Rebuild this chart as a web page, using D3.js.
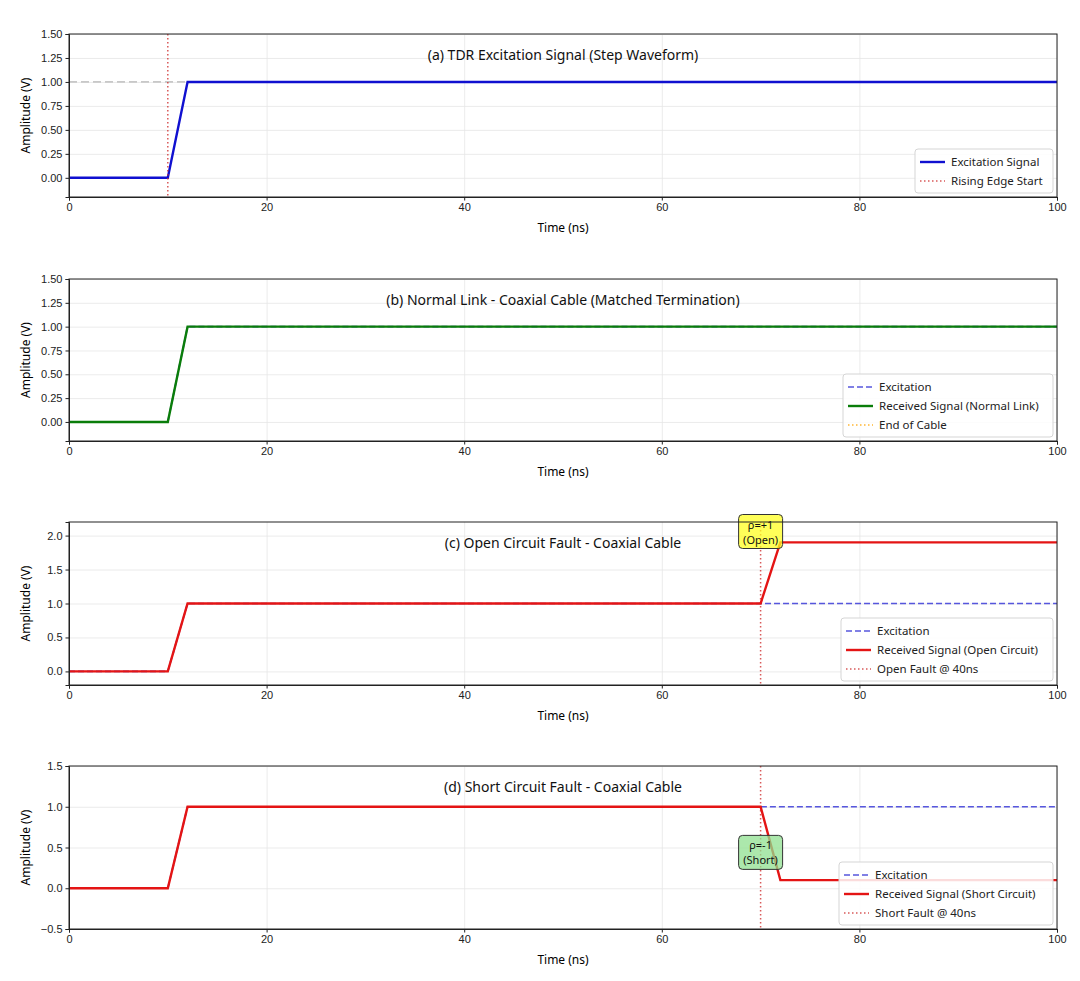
<!DOCTYPE html>
<html>
<head>
<meta charset="utf-8">
<script src="https://cdn.jsdelivr.net/npm/d3@7"></script>
<style>
  body { margin: 0; background: #fff; }
  svg { font-family: "Noto Sans", "Open Sans", sans-serif; }
  .grid line { stroke: #e6e6e6; stroke-width: 0.8; }
  .grid path { display: none; }
  .axis path, .axis line { stroke: #222; }
  .axis text { font-size: 11px; fill: #222; }
</style>
</head>
<body>
<div id="chart"></div>
<script>
// time points and signal levels (ns, V)
var excitationT = [0, 10, 12, 100];
var excitationV = [0, 0, 1, 1];
var normalT = [0, 10, 12, 100];
var normalV = [0, 0, 1, 1];
var openT = [0, 10, 12, 70, 72, 100];
var openV = [0, 0, 1, 1, 1.9, 1.9];
var shortT = [0, 10, 12, 70, 72, 100];
var shortV = [0, 0, 1, 1, 0.1, 0.1];
var risingEdge = 10;
var faultTime = 70;
var xTicks = [0, 20, 40, 60, 80, 100];
var yTicksA = [0, 0.25, 0.5, 0.75, 1.0, 1.25, 1.5];
var yTicksC = [0, 0.5, 1.0, 1.5, 2.0];
var yTicksD = [-0.5, 0, 0.5, 1.0, 1.5];

function zip(t, v) { return t.map(function(d, i) { return [d, v[i]]; }); }

var W = 1080, H = 981;
var left = 69, right = 1057;
var svg = d3.select("#chart").append("svg").attr("width", W).attr("height", H);

var x = d3.scaleLinear().domain([0, 100]).range([left, right]);

var panels = [
  { top: 34, bottom: 197, ydom: [-0.2, 1.5], yticks: yTicksA, fmt: d3.format(".2f"),
    title: "(a) TDR Excitation Signal (Step Waveform)" },
  { top: 279, bottom: 441, ydom: [-0.2, 1.5], yticks: yTicksA, fmt: d3.format(".2f"),
    title: "(b) Normal Link - Coaxial Cable (Matched Termination)" },
  { top: 522, bottom: 685, ydom: [-0.2, 2.2], yticks: yTicksC, fmt: d3.format(".1f"),
    title: "(c) Open Circuit Fault - Coaxial Cable" },
  { top: 766, bottom: 929, ydom: [-0.5, 1.5], yticks: yTicksD, fmt: d3.format(".1f"),
    title: "(d) Short Circuit Fault - Coaxial Cable" }
];

var line = d3.line();

panels.forEach(function(p, i) {
  var y = d3.scaleLinear().domain(p.ydom).range([p.bottom, p.top]);
  p.y = y;
  var g = svg.append("g");
  p.g = g;
  var clipId = "clip" + i;
  svg.append("clipPath").attr("id", clipId).append("rect")
    .attr("x", left).attr("y", p.top).attr("width", right - left).attr("height", p.bottom - p.top);
  p.clip = "url(#" + clipId + ")";

  // grid
  g.append("g").attr("class", "grid")
    .attr("transform", "translate(0," + p.bottom + ")")
    .call(d3.axisBottom(x).tickValues(xTicks).tickSize(-(p.bottom - p.top)).tickFormat(""));
  g.append("g").attr("class", "grid")
    .attr("transform", "translate(" + left + ",0)")
    .call(d3.axisLeft(y).tickValues(p.yticks).tickSize(-(right - left)).tickFormat(""));

  // title
  g.append("text").attr("x", (left + right) / 2).attr("y", p.top + 26)
    .attr("text-anchor", "middle").style("font-size", "14px").style("fill", "#111")
    .text(p.title);

  // axis labels
  g.append("text").attr("x", (left + right) / 2).attr("y", p.bottom + 35)
    .attr("text-anchor", "middle").style("font-size", "12px").text("Time (ns)");
  g.append("text").attr("transform", "translate(30," + ((p.top + p.bottom) / 2) + ") rotate(-90)")
    .attr("text-anchor", "middle").style("font-size", "12px").text("Amplitude (V)");
});

function path(p, data, color, width, dash, opacity) {
  return p.g.append("path").datum(data.map(function(d) { return [x(d[0]), p.y(d[1])]; }))
    .attr("d", line).attr("fill", "none").attr("stroke", color)
    .attr("stroke-width", width).attr("stroke-dasharray", dash || null)
    .attr("opacity", opacity == null ? 1 : opacity).attr("clip-path", p.clip);
}

function vline(p, t, color, dash, opacity) {
  p.g.append("line").attr("x1", x(t)).attr("x2", x(t))
    .attr("y1", p.top).attr("y2", p.bottom)
    .attr("stroke", color).attr("stroke-width", 1.5).attr("stroke-dasharray", dash)
    .attr("opacity", opacity);
}

var dashed = "6,3", dotted = "1.5,2.5";
var excColor = "#3a3ad8";

// (a)
var pa = panels[0];
pa.g.append("line").attr("x1", left).attr("x2", right)
  .attr("y1", pa.y(1)).attr("y2", pa.y(1))
  .attr("stroke", "#999").attr("stroke-width", 1.3).attr("stroke-dasharray", "8,4").attr("opacity", 0.7);
path(pa, zip(excitationT, excitationV), "#1010d0", 2.4);
vline(pa, risingEdge, "#d03030", dotted, 0.8);

// (b)
var pb = panels[1];
path(pb, zip(excitationT, excitationV), excColor, 1.7, dashed, 0.85);
path(pb, zip(normalT, normalV), "#0a7d0a", 2.4);

// (c)
var pc = panels[2];
vline(pc, faultTime, "#d03030", dotted, 0.8);
path(pc, zip(excitationT, excitationV), excColor, 1.7, dashed, 0.85);
path(pc, zip(openT, openV), "#e41414", 2.4);

// (d)
var pd = panels[3];
vline(pd, faultTime, "#d03030", dotted, 0.8);
path(pd, zip(excitationT, excitationV), excColor, 1.7, dashed, 0.85);
path(pd, zip(shortT, shortV), "#e41414", 2.4);

// annotations
function annot(p, t, v, lines, fill) {
  var cx = x(t), cy = p.y(v);
  var g = p.g.append("g");
  g.append("rect").attr("x", cx - 22).attr("y", cy - 17).attr("width", 44).attr("height", 34)
    .attr("rx", 4).attr("fill", fill).attr("fill-opacity", 0.75)
    .attr("stroke", "#333").attr("stroke-width", 1);
  lines.forEach(function(s, k) {
    g.append("text").attr("x", cx).attr("y", cy - 3 + k * 15)
      .attr("text-anchor", "middle").style("font-size", "11px").style("fill", "#111").text(s);
  });
}
annot(pc, faultTime, 2.06, ["ρ=+1", "(Open)"], "#ffff22");
annot(pd, faultTime, 0.44, ["ρ=-1", "(Short)"], "#90e090");

// axes and frame
panels.forEach(function(p) {
  p.g.append("g").attr("class", "axis").attr("transform", "translate(0," + p.bottom + ")")
    .call(d3.axisBottom(x).tickValues(xTicks).tickSize(3.5).tickFormat(d3.format("d")));
  p.g.append("g").attr("class", "axis").attr("transform", "translate(" + left + ",0)")
    .call(d3.axisLeft(p.y).tickValues(p.yticks).tickSize(3.5).tickFormat(p.fmt));
  p.g.append("rect").attr("x", left).attr("y", p.top).attr("width", right - left)
    .attr("height", p.bottom - p.top).attr("fill", "none").attr("stroke", "#222").attr("stroke-width", 1);
});

// legends
function legend(p, items, boxW) {
  var h = items.length * 19 + 6;
  var x0 = right - 4 - boxW, y0 = p.bottom - 4 - h;
  var g = p.g.append("g").attr("transform", "translate(" + x0 + "," + y0 + ")");
  g.append("rect").attr("width", boxW).attr("height", h).attr("rx", 3)
    .attr("fill", "#fff").attr("fill-opacity", 0.85).attr("stroke", "#d5d5d5");
  items.forEach(function(it, k) {
    var yy = 13 + k * 19;
    g.append("line").attr("x1", 5).attr("x2", 30).attr("y1", yy).attr("y2", yy)
      .attr("stroke", it.color).attr("stroke-width", it.w).attr("stroke-dasharray", it.dash || null)
      .attr("opacity", it.op == null ? 1 : it.op);
    g.append("text").attr("x", 36).attr("y", yy + 4).style("font-size", "11.5px").style("fill", "#222").text(it.label);
  });
}
legend(pa, [
  { label: "Excitation Signal", color: "#1010d0", w: 2.4 },
  { label: "Rising Edge Start", color: "#d03030", w: 1.5, dash: dotted, op: 0.8 }
], 138);
legend(pb, [
  { label: "Excitation", color: excColor, w: 1.7, dash: dashed, op: 0.85 },
  { label: "Received Signal (Normal Link)", color: "#0a7d0a", w: 2.4 },
  { label: "End of Cable", color: "#ffa500", w: 1.5, dash: dotted, op: 0.8 }
], 210);
legend(pc, [
  { label: "Excitation", color: excColor, w: 1.7, dash: dashed, op: 0.85 },
  { label: "Received Signal (Open Circuit)", color: "#e41414", w: 2.4 },
  { label: "Open Fault @ 40ns", color: "#d03030", w: 1.5, dash: dotted, op: 0.8 }
], 212);
legend(pd, [
  { label: "Excitation", color: excColor, w: 1.7, dash: dashed, op: 0.85 },
  { label: "Received Signal (Short Circuit)", color: "#e41414", w: 2.4 },
  { label: "Short Fault @ 40ns", color: "#d03030", w: 1.5, dash: dotted, op: 0.8 }
], 214);
</script>
</body>
</html>
